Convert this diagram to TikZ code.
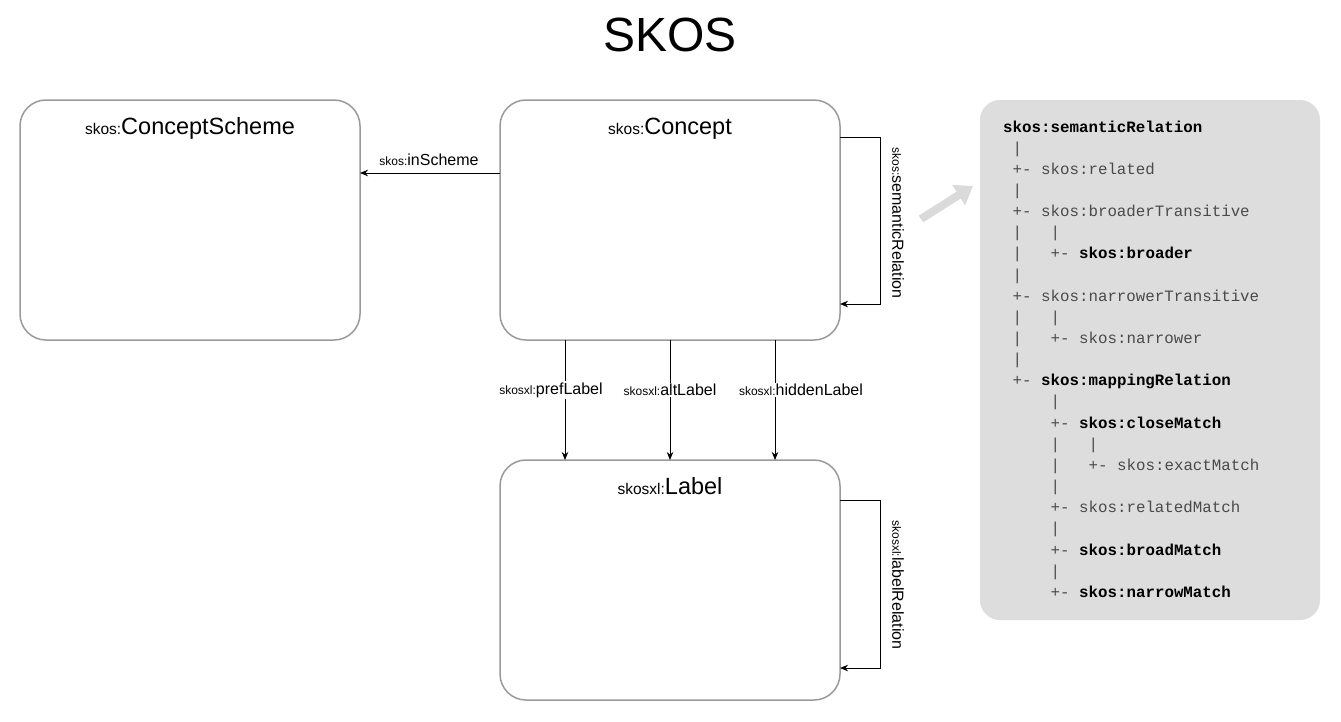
\documentclass[tikz,border=0pt]{standalone}
\usepackage{fontspec}
\setmainfont{Liberation Sans}
\newfontfamily\monofont{Liberation Mono}
\usetikzlibrary{arrows.meta}
\definecolor{boxgray}{HTML}{9A9A9A}
\definecolor{panelgray}{HTML}{DDDDDD}
\definecolor{arrowgray}{HTML}{DADADA}
\definecolor{treegray}{HTML}{4A4A4A}
\newcommand{\smallpart}[1]{{\fontsize{15.5}{17}\selectfont #1}}
\newcommand{\bigpart}[1]{{\fontsize{23.5}{25}\selectfont #1}}
\newcommand{\lblsmall}[1]{{\fontsize{12}{13}\selectfont #1}}
\newcommand{\lblbig}[1]{{\fontsize{16}{17}\selectfont #1}}
\begin{document}
\begin{tikzpicture}[x=1pt,y=-1pt,
  classbox/.style={draw=boxgray,line width=1.5pt,rounded corners=26pt,fill=white},
  conn/.style={draw=black,line width=0.9pt,-{Stealth[length=8pt,width=6.5pt,inset=2.5pt]}},
  edgelbl/.style={fill=white,inner sep=1.5pt},
  tree/.style={anchor=base west,inner sep=0pt,font=\monofont\fontsize{15.8}{18}\selectfont,text=treegray},
  treeb/.style={tree,font=\monofont\bfseries\fontsize{15.8}{18}\selectfont,text=black}
]
\useasboundingbox (0,0) rectangle (1341,721);
\fill[white] (0,0) rectangle (1341,721);

% title
\node[font=\fontsize{48}{52}\selectfont] (title) at (670,35) {SKOS};

% boxes
\draw[classbox] (20,100) rectangle (360,340);
\draw[classbox] (500,100) rectangle (840,340);
\draw[classbox] (500,460) rectangle (840,700);
\node[anchor=base,inner sep=0pt] (cstitle) at (190,134) {\smallpart{skos:}\bigpart{ConceptScheme}};
\node[anchor=base,inner sep=0pt] (ctitle) at (670,134) {\smallpart{skos:}\bigpart{Concept}};
\node[anchor=base,inner sep=0pt] (ltitle) at (670,494) {\smallpart{skosxl:}\bigpart{Label}};

% connection points
\coordinate (cL) at (500,173);
\coordinate (csR) at (360,173);
\coordinate (c1) at (565,340);
\coordinate (c2) at (670,340);
\coordinate (c3) at (775,340);
\coordinate (l1) at (565,460);
\coordinate (l2) at (670,460);
\coordinate (l3) at (775,460);
\coordinate (sr1) at (840,137);
\coordinate (sr2) at (880,137);
\coordinate (sr3) at (880,304);
\coordinate (sr4) at (840,304);
\coordinate (lr1) at (840,500);
\coordinate (lr2) at (880,500);
\coordinate (lr3) at (880,668);
\coordinate (lr4) at (840,668);

% inScheme
\draw[conn] (cL) -- (csR);
\node[anchor=base,inner sep=0pt] (inscheme) at (429,165) {\lblsmall{skos:}\lblbig{inScheme}};

% label arrows
\draw[conn] (c1) -- (l1);
\draw[conn] (c2) -- (l2);
\draw[conn] (c3) -- (l3);
\node[edgelbl] (pref) at (551,390) {\lblsmall{skosxl:}\lblbig{prefLabel}};
\node[edgelbl] (alt) at (670,390) {\lblsmall{skosxl:}\lblbig{altLabel}};
\node[edgelbl] (hidden) at (801,390) {\lblsmall{skosxl:}\lblbig{hiddenLabel}};

% self loops
\draw[conn] (sr1) -- (sr2) -- (sr3) -- (sr4);
\node[rotate=-90,inner sep=0pt] (semrel) at (898,223) {\lblsmall{skos:}\lblbig{semanticRelation}};
\draw[conn] (lr1) -- (lr2) -- (lr3) -- (lr4);
\node[rotate=-90,inner sep=0pt] (labrel) at (898,585) {\lblsmall{skosxl:}\lblbig{labelRelation}};

% panel
\fill[panelgray,rounded corners=20pt] (980,100) rectangle (1320,620);
\coordinate (ga) at (921,219);
\coordinate (gb) at (973,186);
\draw[arrowgray,line width=8pt,-{Triangle[length=17pt,width=23pt]}] (ga) -- (gb);

% tree text
\def\cw{9.5}
\def\lh{21.15}
\def\tx{1003}
\def\ty{132}
\node[treeb] (t1)  at (\tx,\ty+0*\lh) {skos:semanticRelation};
\node[tree]  (t2)  at (\tx+1*\cw,\ty+1*\lh) {|};
\node[tree]  (t3)  at (\tx+1*\cw,\ty+2*\lh) {+- skos:related};
\node[tree]  (t4)  at (\tx+1*\cw,\ty+3*\lh) {|};
\node[tree]  (t5)  at (\tx+1*\cw,\ty+4*\lh) {+- skos:broaderTransitive};
\node[tree]  (t6a) at (\tx+1*\cw,\ty+5*\lh) {|};
\node[tree]  (t6b) at (\tx+5*\cw,\ty+5*\lh) {|};
\node[tree]  (t7a) at (\tx+1*\cw,\ty+6*\lh) {|};
\node[tree]  (t7b) at (\tx+5*\cw,\ty+6*\lh) {+-};
\node[treeb] (t7c) at (\tx+8*\cw,\ty+6*\lh) {skos:broader};
\node[tree]  (t8)  at (\tx+1*\cw,\ty+7*\lh) {|};
\node[tree]  (t9)  at (\tx+1*\cw,\ty+8*\lh) {+- skos:narrowerTransitive};
\node[tree]  (t10a) at (\tx+1*\cw,\ty+9*\lh) {|};
\node[tree]  (t10b) at (\tx+5*\cw,\ty+9*\lh) {|};
\node[tree]  (t11a) at (\tx+1*\cw,\ty+10*\lh) {|};
\node[tree]  (t11b) at (\tx+5*\cw,\ty+10*\lh) {+- skos:narrower};
\node[tree]  (t12) at (\tx+1*\cw,\ty+11*\lh) {|};
\node[tree]  (t13a) at (\tx+1*\cw,\ty+12*\lh) {+-};
\node[treeb] (t13b) at (\tx+4*\cw,\ty+12*\lh) {skos:mappingRelation};
\node[tree]  (t14) at (\tx+5*\cw,\ty+13*\lh) {|};
\node[tree]  (t15a) at (\tx+5*\cw,\ty+14*\lh) {+-};
\node[treeb] (t15b) at (\tx+8*\cw,\ty+14*\lh) {skos:closeMatch};
\node[tree]  (t16a) at (\tx+5*\cw,\ty+15*\lh) {|};
\node[tree]  (t16b) at (\tx+9*\cw,\ty+15*\lh) {|};
\node[tree]  (t17a) at (\tx+5*\cw,\ty+16*\lh) {|};
\node[tree]  (t17b) at (\tx+9*\cw,\ty+16*\lh) {+- skos:exactMatch};
\node[tree]  (t18) at (\tx+5*\cw,\ty+17*\lh) {|};
\node[tree]  (t19) at (\tx+5*\cw,\ty+18*\lh) {+- skos:relatedMatch};
\node[tree]  (t20) at (\tx+5*\cw,\ty+19*\lh) {|};
\node[tree]  (t21a) at (\tx+5*\cw,\ty+20*\lh) {+-};
\node[treeb] (t21b) at (\tx+8*\cw,\ty+20*\lh) {skos:broadMatch};
\node[tree]  (t22) at (\tx+5*\cw,\ty+21*\lh) {|};
\node[tree]  (t23a) at (\tx+5*\cw,\ty+22*\lh) {+-};
\node[treeb] (t23b) at (\tx+8*\cw,\ty+22*\lh) {skos:narrowMatch};
\end{tikzpicture}
\end{document}
